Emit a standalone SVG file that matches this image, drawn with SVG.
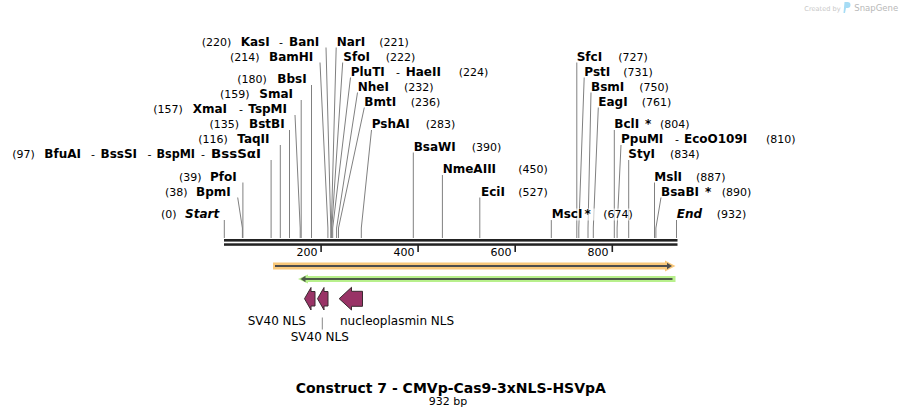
<svg xmlns="http://www.w3.org/2000/svg" width="902" height="418" viewBox="0 0 902 418">
<style>
text{font-family:"DejaVu Sans","Verdana",sans-serif;fill:#000}
.n{font-weight:bold;font-size:12px}
.ni{font-weight:bold;font-style:italic;font-size:12px}
.p{font-size:11px}
.d{font-size:11px}
.lbl{font-size:12px}
.site{fill:none;stroke:#808080;stroke-width:1}
.feat{fill:#993366;stroke:#3a2a30;stroke-width:1;stroke-linejoin:miter}
</style>
<rect width="902" height="418" fill="#fff"/>
<g id="watermark">
<text x="804.3" y="11" style="font-size:6.6px;fill:#c8c8c8">Created by</text>
<path d="M844.5 2 h3 a3 3 0 0 1 0 6 h-1.5 l-1 5 h-1.5 z" fill="#a6dcf5"/>
<text x="854.3" y="11" style="font-size:8.5px;fill:#b8b8b8">SnapGene</text>
</g>
<g id="connectors">
<path class="site" d="M326 47.5 L330.8 228 V238"/>
<path class="site" d="M320 62.5 L327.9 228 V238"/>
<path class="site" d="M311.5 85 V238"/>
<path class="site" d="M301.2 100 V238"/>
<path class="site" d="M295 115 L300.2 228 V238"/>
<path class="site" d="M289.5 130 V238"/>
<path class="site" d="M280.3 145 V238"/>
<path class="site" d="M271.1 160 V238"/>
<path class="site" d="M242.9 182.5 V238"/>
<path class="site" d="M237.7 197.5 L242.4 228 V238"/>
<path class="site" d="M224.3 220 V238"/>
<path class="site" d="M336.2 47.5 L331.3 228 V238"/>
<path class="site" d="M342.7 62.5 L331.8 228 V238"/>
<path class="site" d="M350.5 77.5 L332.7 228 V238"/>
<path class="site" d="M357.5 92.5 L336.6 228 V238"/>
<path class="site" d="M364.3 107.5 L338.5 228 V238"/>
<path class="site" d="M371.5 130 L361.3 228 V238"/>
<path class="site" d="M413.3 152.5 V238"/>
<path class="site" d="M442.4 175 V238"/>
<path class="site" d="M479.8 197.5 V238"/>
<path class="site" d="M551.3 220 V238"/>
<path class="site" d="M576.8 62.5 V238"/>
<path class="site" d="M584.2 77.5 L578.8 228 V238"/>
<path class="site" d="M591 92.5 L588 228 V238"/>
<path class="site" d="M598.3 107.5 L593.3 228 V238"/>
<path class="site" d="M614.3 130 V238"/>
<path class="site" d="M621 145 L617.1 228 V238"/>
<path class="site" d="M628.7 160 V238"/>
<path class="site" d="M654.5 182.5 V238"/>
<path class="site" d="M661 197.5 L655.9 228 V238"/>
<path class="site" d="M676.5 220 V238"/>
</g>
<g id="ruler">
<rect x="224" y="239" width="453.5" height="2.6" fill="#222"/>
<rect x="224" y="243.3" width="453.5" height="2.5" fill="#222"/>
<path d="M321.1 245 V252 M418.1 245 V252 M515.2 245 V252 M612.3 245 V252" stroke="#222" stroke-width="1.6"/>
<text class="d" x="317.5" y="255.5" text-anchor="end">200</text>
<text class="d" x="414.5" y="255.5" text-anchor="end">400</text>
<text class="d" x="511.5" y="255.5" text-anchor="end">600</text>
<text class="d" x="608.5" y="255.5" text-anchor="end">800</text>
</g>
<g id="site-KasI-BanI"><text class="p" x="201.7" y="45.5">(220)</text><text class="n" x="240.7" y="45.5">KasI</text><text class="p" x="279" y="45.5">-</text><text class="n" x="289" y="45.5">BanI</text></g>
<g id="site-BamHI"><text class="p" x="230" y="60.5">(214)</text><text class="n" x="269" y="60.5">BamHI</text></g>
<g id="site-BbsI"><text class="p" x="237.3" y="83">(180)</text><text class="n" x="277.3" y="83">BbsI</text></g>
<g id="site-SmaI"><text class="p" x="220" y="98">(159)</text><text class="n" x="259.3" y="98">SmaI</text></g>
<g id="site-XmaI-TspMI"><text class="p" x="153.3" y="113">(157)</text><text class="n" x="192.7" y="113">XmaI</text><text class="p" x="239" y="113">-</text><text class="n" x="248.3" y="113">TspMI</text></g>
<g id="site-BstBI"><text class="p" x="209.5" y="128">(135)</text><text class="n" x="249" y="128">BstBI</text></g>
<g id="site-TaqII"><text class="p" x="198.3" y="143">(116)</text><text class="n" x="237.3" y="143">TaqII</text></g>
<g id="site-BfuAI"><text class="p" x="12.3" y="158">(97)</text><text class="n" x="44.3" y="158">BfuAI</text><text class="p" x="91" y="158">-</text><text class="n" x="100.5" y="158">BssSI</text><text class="p" x="147.5" y="158">-</text><text class="n" x="156.5" y="158" textLength="38.5" lengthAdjust="spacingAndGlyphs">BspMI</text><text class="p" x="201" y="158">-</text><text class="n" x="211" y="158" textLength="50" lengthAdjust="spacingAndGlyphs">BssSαI</text></g>
<g id="site-PfoI"><text class="p" x="179" y="180.5">(39)</text><text class="n" x="210" y="180.5">PfoI</text></g>
<g id="site-BpmI"><text class="p" x="165" y="195.5">(38)</text><text class="n" x="196" y="195.5">BpmI</text></g>
<g id="site-Start"><text class="p" x="161" y="218.3">(0)</text><text class="ni" x="185" y="218.3">Start</text></g>
<g id="site-NarI"><text class="n" x="336.7" y="45.5">NarI</text><text class="p" x="379.3" y="45.5">(221)</text></g>
<g id="site-SfoI"><text class="n" x="343.3" y="60.5">SfoI</text><text class="p" x="385.7" y="60.5">(222)</text></g>
<g id="site-PluTI-HaeII"><text class="n" x="350.7" y="75.5">PluTI</text><text class="p" x="396" y="75.5">-</text><text class="n" x="405.7" y="75.5">HaeII</text><text class="p" x="458.7" y="75.5">(224)</text></g>
<g id="site-NheI"><text class="n" x="357.7" y="90.5">NheI</text><text class="p" x="404" y="90.5">(232)</text></g>
<g id="site-BmtI"><text class="n" x="364.3" y="105.5">BmtI</text><text class="p" x="410.7" y="105.5">(236)</text></g>
<g id="site-PshAI"><text class="n" x="371.7" y="128">PshAI</text><text class="p" x="425.7" y="128">(283)</text></g>
<g id="site-BsaWI"><text class="n" x="413.7" y="150.5">BsaWI</text><text class="p" x="471.7" y="150.5">(390)</text></g>
<g id="site-NmeAIII"><text class="n" x="442.7" y="173">NmeAIII</text><text class="p" x="518.3" y="173">(450)</text></g>
<g id="site-EciI"><text class="n" x="481" y="195.5">EciI</text><text class="p" x="518.3" y="195.5">(527)</text></g>
<g id="site-MscI"><rect x="551.7" y="208.5" width="82" height="12" fill="#fff" fill-opacity="0.6"/><text class="n" x="551.7" y="218.3">MscI</text><text class="n" x="584.5" y="218.3">*</text><text class="p" x="603.3" y="218.3">(674)</text></g>
<g id="site-SfcI"><text class="n" x="576.7" y="60.5">SfcI</text><text class="p" x="618.3" y="60.5">(727)</text></g>
<g id="site-PstI"><text class="n" x="584.3" y="75.5">PstI</text><text class="p" x="623.3" y="75.5">(731)</text></g>
<g id="site-BsmI"><text class="n" x="591" y="90.5">BsmI</text><text class="p" x="639.3" y="90.5">(750)</text></g>
<g id="site-EagI"><text class="n" x="598.3" y="105.5">EagI</text><text class="p" x="641.7" y="105.5">(761)</text></g>
<g id="site-BclI"><text class="n" x="614.3" y="128">BclI</text><text class="n" x="645" y="128">*</text><text class="p" x="660" y="128">(804)</text></g>
<g id="site-PpuMI-EcoO109I"><text class="n" x="621" y="143">PpuMI</text><text class="p" x="675" y="143">-</text><text class="n" x="684" y="143">EcoO109I</text><text class="p" x="766" y="143">(810)</text></g>
<g id="site-StyI"><text class="n" x="628.3" y="158">StyI</text><text class="p" x="670" y="158">(834)</text></g>
<g id="site-MslI"><text class="n" x="654.3" y="180.5">MslI</text><text class="p" x="696" y="180.5">(887)</text></g>
<g id="site-BsaBI"><text class="n" x="661" y="195.5">BsaBI</text><text class="n" x="705" y="195.5">*</text><text class="p" x="721.7" y="195.5">(890)</text></g>
<g id="site-End"><text class="ni" x="676.7" y="218.3">End</text><text class="p" x="716.7" y="218.3">(932)</text></g>
<g id="feature-orange">
<path d="M273 266 H667" stroke="#f9c87a" stroke-width="7"/>
<polygon points="665,260.5 675.5,266 665,271.5" fill="#f9c87a"/>
<path d="M275 266 H668" stroke="#4d4d4d" stroke-width="2.2"/>
<polygon points="667,262.7 672,266 667,269.3" fill="#4d4d4d"/>
</g>
<g id="feature-green">
<path d="M306 279 H675.5" stroke="#b8f08c" stroke-width="6"/>
<polygon points="308,274.5 298,279 308,283.5" fill="#b8f08c"/>
<path d="M305 279 H672.5" stroke="#4d5a48" stroke-width="2.2"/>
<polygon points="305.5,275.8 300.5,279 305.5,282.2" fill="#4d5a48"/>
</g>
<g id="feature-SV40-NLS-1">
<polygon class="feat" points="315,291.5 311,291.5 311,287.5 304.5,298.7 311,310 311,306 315,306"/>
<text class="lbl" x="247.7" y="325">SV40 NLS</text>
</g>
<g id="feature-SV40-NLS-2">
<polygon class="feat" points="328,291.5 324,291.5 324,287.5 317.5,298.7 324,310 324,306 328,306"/>
<path d="M322.3 317.5 V329.5" stroke="#888" stroke-width="1"/>
<text class="lbl" x="290.7" y="341">SV40 NLS</text>
</g>
<g id="feature-nucleoplasmin-NLS">
<polygon class="feat" points="362.5,291.3 351.5,291.3 351.5,287.3 339.2,298.7 351.5,310 351.5,306.3 362.5,306.3"/>
<text class="lbl" x="340" y="325">nucleoplasmin NLS</text>
</g>
<g id="title">
<text x="450.8" y="392.5" text-anchor="middle" style="font-size:14px;font-weight:bold">Construct 7 - CMVp-Cas9-3xNLS-HSVpA</text>
<text x="448" y="405" text-anchor="middle" style="font-size:11px">932 bp</text>
</g>
</svg>
